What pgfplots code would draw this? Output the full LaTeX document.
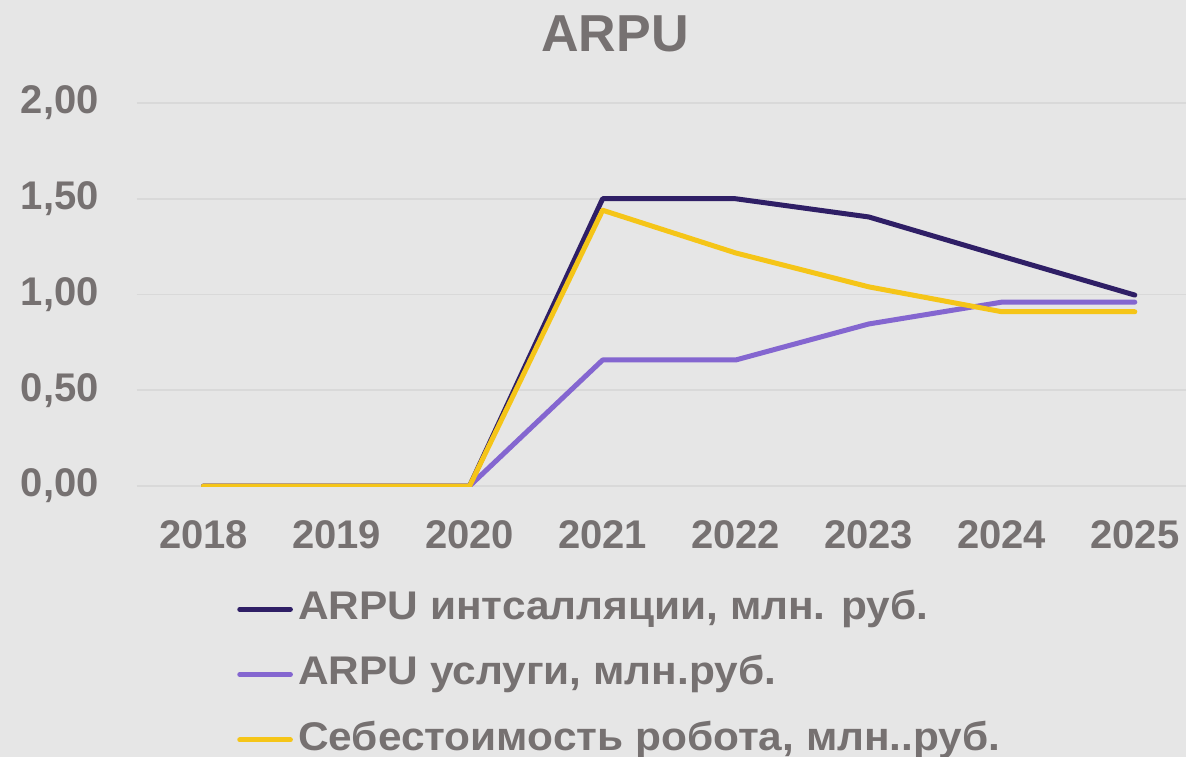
\documentclass[border=0pt]{standalone}
\usepackage{pgfplots}
\pgfplotsset{compat=1.18}
\usepackage{fontspec}
\setmainfont{Liberation Sans}
\newfontfamily\legfont[FakeStretch=1.06]{Liberation Sans}
\definecolor{bg}{HTML}{E6E6E6}
\definecolor{gridc}{HTML}{D9D9D9}
\definecolor{txt}{HTML}{767171}
\definecolor{darkp}{HTML}{2F1F66}
\definecolor{midp}{HTML}{8466D0}
\definecolor{yel}{HTML}{F5C518}
\begin{document}
\begin{tikzpicture}
\useasboundingbox (0,0) rectangle (889.5pt,567.75pt);
\fill[bg] (0,0) rectangle (889.5pt,567.75pt);
\begin{axis}[
  at={(102.75pt,203.25pt)}, anchor=south west,
  width=786.75pt, height=287.25pt, scale only axis,
  xmin=-0.5, xmax=7.385, ymin=0, ymax=2,
  axis line style={draw=none},
  tick style={draw=none},
  ymajorgrids, grid style={gridc, line width=1.2pt},
  ytick={0,0.5,1,1.5,2},
  /pgf/number format/.cd, fixed, fixed zerofill, precision=2, use comma, assume math mode=true,
  /pgfplots/.cd,
  xtick={0,...,7},
  xticklabels={2018,2019,2020,2021,2022,2023,2024,2025},
  ticklabel style={font=\fontsize{30}{30}\selectfont\bfseries, text=txt, inner sep=0pt},
  yticklabel style={anchor=east, xshift=-28.5pt},
  xticklabel style={anchor=north, yshift=-25.5pt},
  title={ARPU},
  title style={at={(axis description cs:0.4557,1)}, anchor=center, yshift=45.75pt, font=\fontsize{39}{39}\selectfont\bfseries, text=txt},
  legend style={at={(axis description cs:0,0)}, anchor=north west, xshift=75pt, yshift=-78pt, draw=none, fill=none, font=\legfont\fontsize{30}{30}\selectfont\bfseries, text=txt, row sep=20.5pt, inner sep=0pt, nodes={inner sep=0pt, text height=22pt, text depth=6.5pt}},
  legend cell align=left,
  legend image code/.code={\draw[#1, line width=3.75pt, line cap=round] (0pt,0pt) -- (38pt,0pt);},
  every axis plot/.append style={line width=3.75pt, line join=round, line cap=round},
]
\addplot[darkp] coordinates {(0,0) (1,0) (2,0) (3,1.5) (4,1.5) (5,1.405) (6,1.2) (7,0.997)};
\addlegendentry{\hspace{4pt}ARPU интсалляции, млн. руб.}
\addplot[midp] coordinates {(0,0) (1,0) (2,0) (3,0.658) (4,0.658) (5,0.846) (6,0.96) (7,0.96)};
\addlegendentry{\hspace{4pt}ARPU услуги, млн.руб.}
\addplot[yel] coordinates {(0,0) (1,0) (2,0) (3,1.44) (4,1.217) (5,1.04) (6,0.91) (7,0.91)};
\addlegendentry{\hspace{4pt}Себестоимость робота, млн..руб.}
\end{axis}
\end{tikzpicture}
\end{document}
